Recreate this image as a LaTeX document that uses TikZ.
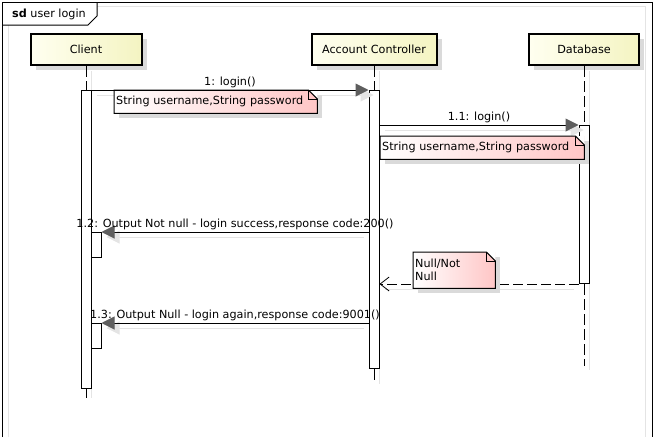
\documentclass[tikz,border=0pt]{standalone}
\usepackage{fontspec}
\setmainfont{DejaVu Sans}
\usetikzlibrary{arrows.meta,calc,shadows}
\definecolor{headL}{HTML}{FFFFF0}
\definecolor{headR}{HTML}{F4F4C2}
\definecolor{noteR}{HTML}{FFC6C6}
\definecolor{shad}{HTML}{DADADA}
\definecolor{faint}{HTML}{E4E4E4}
\definecolor{arrowfill}{HTML}{5E5E5E}
\begin{document}
\begin{tikzpicture}[x=1pt,y=-1pt,
  font=\fontsize{11.2}{13}\selectfont,
  head/.style={draw=black,line width=2pt,left color=headL,right color=headR,
    minimum height=31pt,inner sep=0pt,
    drop shadow={shadow xshift=5pt,shadow yshift=-5pt,fill=shad,opacity=1}},
  actbar/.style={draw=black,line width=1pt,fill=white,minimum width=10pt,inner sep=0pt,anchor=north},
  life/.style={line width=1pt,dash pattern=on 11pt off 4pt},
  lifeshad/.style={line width=1pt,draw=faint},
  msg/.style={line width=1pt,-{Triangle[length=13pt,width=13pt,color=arrowfill]}},
  msgshad/.style={line width=1pt,draw=faint,-{Triangle[length=13pt,width=13pt,color=faint]}},
  ret/.style={line width=1pt,dash pattern=on 10pt off 4pt,-{Straight Barb[length=9pt,width=14pt,line width=0.8pt]}},
  retshad/.style={line width=1pt,draw=faint},
  note/.style={shade,left color=white,right color=noteR,anchor=north west,inner xsep=2pt,inner ysep=2pt,align=left,
    drop shadow={shadow xshift=5pt,shadow yshift=-5pt,fill=shad,opacity=1}},
  lbl/.style={above,inner sep=1.5pt},
]
\useasboundingbox (0,0) rectangle (656,437);
% frame
\draw[faint,line width=1pt] (97,6) -- (645,6) -- (645,437);
\draw[faint,line width=1pt] (8,25) -- (8,437);
\draw[line width=1pt] (2,437) -- (2,2) -- (652,2) -- (652,437);
\draw[line width=1pt] (2,25) -- (88,25) -- (97,16) -- (97,2);
\node[anchor=west,inner sep=0pt] (title) at (12,14) {\textbf{sd} user login};

% heads
\node[head,minimum width=111pt] (client) at (86,49.5) {Client};
\node[head,minimum width=125pt] (ac) at (374,49.5) {Account Controller};
\node[head,minimum width=110pt] (db) at (584,49.5) {Database};

% lifeline end points
\coordinate (cend) at (86,398);
\coordinate (aend) at (374,384);
\coordinate (dend) at (584,366);

% lifeline shadows
\draw[lifeshad] ([xshift=5pt]client.south) ++(0,5) -- ([xshift=5pt]cend);
\draw[lifeshad] ([xshift=5pt]ac.south) ++(0,5) -- ([xshift=5pt]aend);
\draw[lifeshad] ([xshift=5pt]db.south) ++(0,5) -- ([xshift=5pt,yshift=-4pt]dend);

% activation bars
\node[actbar,minimum height=298pt] (cbar) at (86,90) {};
\node[actbar,minimum height=278pt] (abar) at (374,90) {};
\node[actbar,minimum height=158pt] (dbar) at (584,125) {};
\node[actbar,minimum height=25pt] (n1) at (96,232) {};
\node[actbar,minimum height=25pt] (n2) at (96,323) {};

% lifelines
\draw[life] (client.south) -- (cbar.north);
\draw[life] (cbar.south) -- (cend);
\draw[life] (ac.south) -- (abar.north);
\draw[life] (abar.south) -- (aend);
\draw[life] (db.south) -- (dbar.north);
\draw[life] (dbar.south) -- (dend);

% message shadows
\draw[msgshad] ([shift={(5,5)}]cbar.north east) -- ([shift={(5,5)}]abar.north west);
\draw[msgshad] ([shift={(5,5)}]abar.east |- dbar.north) -- ([shift={(5,5)}]dbar.north west);
\draw[msgshad] ([shift={(-5,5)}]abar.west |- n1.north) -- ([shift={(5,5)}]n1.north east);
\draw[msgshad] ([shift={(-5,5)}]abar.west |- n2.north) -- ([shift={(5,5)}]n2.north east);
\draw[retshad] ([shift={(-5,5)}]dbar.south west) -- ([shift={(5,5)}]abar.east |- dbar.south);

% notes 1 and 2
\node[note,minimum width=203pt,minimum height=23pt,text width=199pt] (note1) at (114,90) {String username,String password};
\node[note,minimum width=204pt,minimum height=23pt,text width=200pt] (note2) at (380,136) {String username,String password};
\foreach \n in {note1,note2}{
  \fill[white] ([xshift=-9pt]\n.north east) -- (\n.north east) -- ([yshift=-9pt]\n.north east) -- cycle;
  \draw[line width=1pt] (\n.south west) -- (\n.north west) -- ([xshift=-9pt]\n.north east) -- ([yshift=-9pt]\n.north east) -- (\n.south east) -- cycle;
  \draw[line width=1pt] ([xshift=-9pt]\n.north east) -- ([xshift=-9pt,yshift=-9pt]\n.north east) -- ([yshift=-9pt]\n.north east);
}

% messages
\draw[msg] (cbar.north east) -- node[lbl] (l1) {1: login()} (abar.north west);
\draw[msg] (abar.east |- dbar.north) -- node[lbl] (l2) {1.1: login()} (dbar.north west);
\draw[msg] (abar.west |- n1.north) -- node[lbl] (l3) {1.2: Output Not null - login success,response code:200()} (n1.north east);
\draw[ret] (dbar.south west) -- (abar.east |- dbar.south);
\draw[msg] (abar.west |- n2.north) -- node[lbl] (l4) {1.3: Output Null - login again,response code:9001()} (n2.north east);

% note 3
\node[note,minimum width=82pt,minimum height=36pt,text width=78pt] (note3) at (413,252) {Null/Not\\Null};
\fill[white] ([xshift=-9pt]note3.north east) -- (note3.north east) -- ([yshift=-9pt]note3.north east) -- cycle;
\draw[line width=1pt] (note3.south west) -- (note3.north west) -- ([xshift=-9pt]note3.north east) -- ([yshift=-9pt]note3.north east) -- (note3.south east) -- cycle;
\draw[line width=1pt] ([xshift=-9pt]note3.north east) -- ([xshift=-9pt,yshift=-9pt]note3.north east) -- ([yshift=-9pt]note3.north east);
\end{tikzpicture}
\end{document}
